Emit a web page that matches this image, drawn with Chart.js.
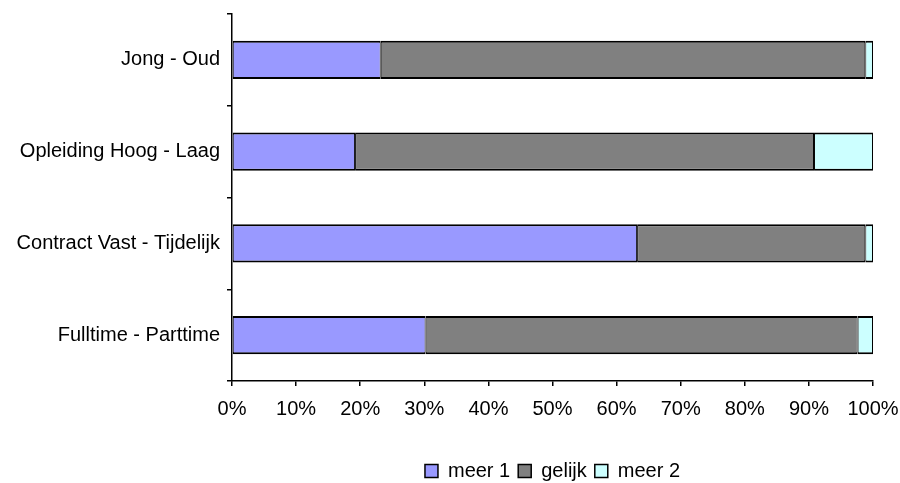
<!DOCTYPE html>
<html>
<head>
<meta charset="utf-8">
<script src="https://cdn.jsdelivr.net/npm/chart.js@4/dist/chart.umd.min.js"></script>
<style>
  html, body { margin: 0; padding: 0; background: #fff; }
  #wrap { width: 900px; height: 483px; }
</style>
</head>
<body>
<div id="wrap"><canvas id="verschilChart" width="900" height="483"></canvas></div>
<script>
// Vergelijkingen per groep (percentages, per balk samen 100%)
const categorieen = ['Jong - Oud', 'Opleiding Hoog - Laag', 'Contract Vast - Tijdelijk', 'Fulltime - Parttime'];
const meer1 = [23.2, 19.2, 63.2, 30.2];
const gelijk = [75.6, 71.6, 35.6, 67.4];
const meer2 = [1.2, 9.2, 1.2, 2.4];
const xTicks = [0, 10, 20, 30, 40, 50, 60, 70, 80, 90, 100];

const lettertype = { family: '"Liberation Sans", Arial, sans-serif', size: 20 };

function serie(label, data, kleur) {
    return {
        label: label,
        data: data,
        backgroundColor: kleur,
        borderColor: '#000',
        borderWidth: { top: 2, bottom: 2, left: 1, right: 1 },
        borderSkipped: false,
        categoryPercentage: 1,
        barPercentage: 0.415
    };
}

// legenda gecentreerd onder het plotgebied, iets lager
const legendaPlaats = {
    id: 'legendaPlaats',
    afterLayout(chart) {
        const lg = chart.legend;
        const ca = chart.chartArea;
        if (!lg || !ca) return;
        const h = lg.bottom - lg.top;
        lg.left = ca.left;
        lg.right = ca.right;
        lg.top = 472 - h / 2;
        lg.bottom = lg.top + h;
    }
};

new Chart(document.getElementById('verschilChart'), {
    type: 'bar',
    data: {
        labels: categorieen,
        datasets: [
            serie('meer 1', meer1, '#9999FF'),
            serie('gelijk', gelijk, '#808080'),
            serie('meer 2', meer2, '#CCFFFF')
        ]
    },
    options: {
        indexAxis: 'y',
        responsive: false,
        animation: false,
        layout: { padding: { top: 14, right: 27, bottom: 0, left: 0 } },
        scales: {
            x: {
                stacked: true,
                min: 0,
                max: 100,
                afterBuildTicks: s => { s.ticks = xTicks.map(v => ({ value: v })); },
                afterFit: s => { s.height = 64; s.paddingLeft = 0; s.paddingRight = 0; },
                border: { color: '#000', width: 1.5 },
                grid: { drawOnChartArea: false, drawTicks: true, tickLength: 5, color: '#000', lineWidth: 1.5 },
                ticks: {
                    color: '#000',
                    font: lettertype,
                    padding: 11,
                    maxRotation: 0,
                    callback: v => v + '%'
                }
            },
            y: {
                stacked: true,
                afterFit: s => { s.width = 232; s.paddingTop = 0; s.paddingBottom = 0; },
                border: { color: '#000', width: 1.5 },
                grid: { drawOnChartArea: false, drawTicks: true, tickLength: 5, color: '#000', lineWidth: 1.5, offset: true },
                ticks: { color: '#000', font: lettertype, padding: 7 }
            }
        },
        plugins: {
            legend: {
                position: 'bottom',
                labels: {
                    color: '#000',
                    font: lettertype,
                    boxWidth: 13,
                    boxHeight: 13,
                    padding: 8
                }
            },
            tooltip: { enabled: false }
        }
    },
    plugins: [legendaPlaats]
});
</script>
</body>
</html>
